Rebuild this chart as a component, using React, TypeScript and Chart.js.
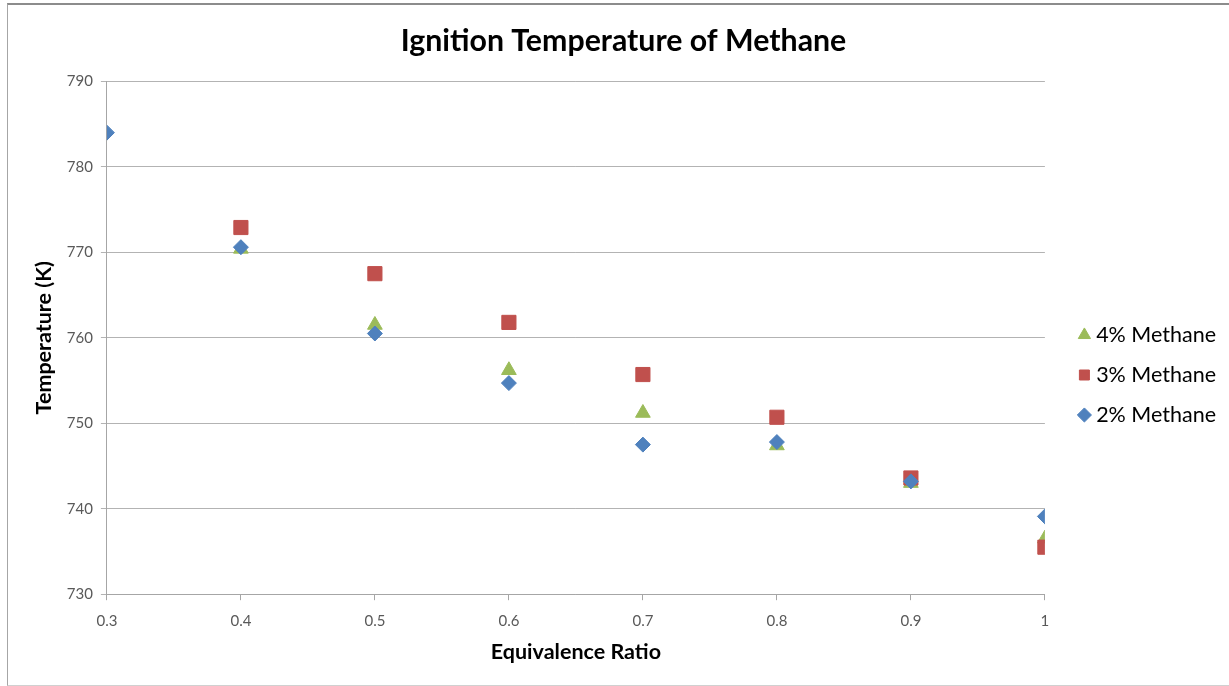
import React, { useEffect, useRef } from "react";
import { Chart, registerables } from "chart.js";

Chart.register(...registerables);

const FONT = "Lato, 'Open Sans', sans-serif";

const chartTitle = "Ignition Temperature of Methane";
const xTitle = "Equivalence Ratio";
const yTitle = "Temperature (K)";

const seriesNames = ["4% Methane", "3% Methane", "2% Methane"];

const ratios4 = [0.4, 0.5, 0.6, 0.7, 0.8, 0.9, 1.0];
const temps4 = [770.4, 761.5, 756.2, 751.2, 747.4, 743.0, 736.5];

const ratios3 = [0.4, 0.5, 0.6, 0.7, 0.8, 0.9, 1.0];
const temps3 = [772.9, 767.5, 761.8, 755.7, 750.7, 743.6, 735.5];

const ratios2 = [0.3, 0.4, 0.5, 0.6, 0.7, 0.8, 0.9, 1.0];
const temps2 = [784.0, 770.6, 760.5, 754.7, 747.5, 747.8, 743.2, 739.1];

const xTickLabels = ["0.3", "0.4", "0.5", "0.6", "0.7", "0.8", "0.9", "1"];

const GREEN = "#9BBB59";
const RED = "#C0504D";
const BLUE = "#4F81BD";

const toPoints = (xs: number[], ys: number[]) => xs.map((x, i) => ({ x, y: ys[i] }));

export default function App() {
  const canvasRef = useRef<HTMLCanvasElement | null>(null);

  useEffect(() => {
    if (!canvasRef.current) return;
    const chart = new Chart(canvasRef.current, {
      type: "scatter",
      data: {
        datasets: [
          {
            label: seriesNames[0],
            data: toPoints(ratios4, temps4),
            pointStyle: "triangle",
            pointRadius: 8.5,
            backgroundColor: GREEN,
            borderColor: GREEN,
            borderWidth: 1,
            order: 3,
          },
          {
            label: seriesNames[1],
            data: toPoints(ratios3, temps3),
            pointStyle: "rect",
            pointRadius: 10,
            backgroundColor: RED,
            borderColor: RED,
            borderWidth: 1,
            order: 2,
          },
          {
            label: seriesNames[2],
            data: toPoints(ratios2, temps2),
            pointStyle: "rectRot",
            pointRadius: 7.5,
            backgroundColor: BLUE,
            borderColor: BLUE,
            borderWidth: 1,
            order: 1,
          },
        ],
      },
      options: {
        animation: false,
        responsive: true,
        maintainAspectRatio: false,
        layout: { padding: { left: 21, right: 3, top: 8, bottom: 17 } },
        plugins: {
          title: {
            display: true,
            text: chartTitle,
            color: "#000",
            font: { family: FONT, size: 30.3, weight: "bold" },
            padding: { top: 15, bottom: 22 },
          },
          legend: {
            position: "right",
            title: { display: true, text: "", font: { size: 10 }, padding: { top: 61, bottom: 0 } },
            labels: {
              usePointStyle: true,
              boxWidth: 2,
              boxHeight: 10,
              color: "#000",
              font: { family: FONT, size: 21.5 },
              padding: 18.5,
              sort: (a: any, b: any) => a.datasetIndex - b.datasetIndex,
            },
          },
          tooltip: { enabled: false },
        },
        scales: {
          x: {
            type: "linear",
            min: 0.3,
            max: 1,
            ticks: {
              stepSize: 0.1,
              color: "#595959",
              font: { family: FONT, size: 15 },
              padding: 12,
              callback: (value: any) => {
                const idx = Math.round((Number(value) - 0.3) * 10);
                return xTickLabels[idx] ?? "";
              },
            },
            grid: { drawOnChartArea: false, tickLength: 6, color: "#a6a6a6" },
            border: { color: "#a6a6a6" },
            title: {
              display: true,
              text: xTitle,
              color: "#000",
              font: { family: FONT, size: 21.5, weight: "bold" },
              padding: { top: -3, bottom: 4 },
            },
          },
          y: {
            min: 730,
            max: 790,
            ticks: {
              stepSize: 10,
              color: "#595959",
              font: { family: FONT, size: 15 },
              padding: 8,
            },
            grid: { color: "#b3b3b3", tickLength: 6 },
            border: { color: "#a6a6a6" },
            title: {
              display: true,
              text: yTitle,
              color: "#000",
              font: { family: FONT, size: 21.5, weight: "bold" },
              padding: { top: 10, bottom: 2 },
            },
          },
          spacer: {
            type: "linear",
            position: "right",
            display: true,
            min: 0,
            max: 1,
            ticks: { display: false },
            grid: { display: false },
            border: { display: false },
            afterFit: (scale: any) => {
              scale.width = 20;
            },
          },
        },
      },
    } as any);
    return () => chart.destroy();
  }, []);

  return (
    <div style={{ position: "absolute", left: 0, top: 0, width: 1229, height: 686, background: "#fff" }}>
      <div
        style={{
          position: "absolute",
          left: 7,
          top: 3,
          width: 1222,
          height: 683,
          boxSizing: "border-box",
          borderTop: "2px solid #8c8c8c",
          borderLeft: "1px solid #a6a6a6",
          borderBottom: "1px solid #d0d0d0",
        }}
      />
      <canvas ref={canvasRef} style={{ position: "absolute", left: 0, top: 0 }} width={1229} height={686} />
    </div>
  );
}
